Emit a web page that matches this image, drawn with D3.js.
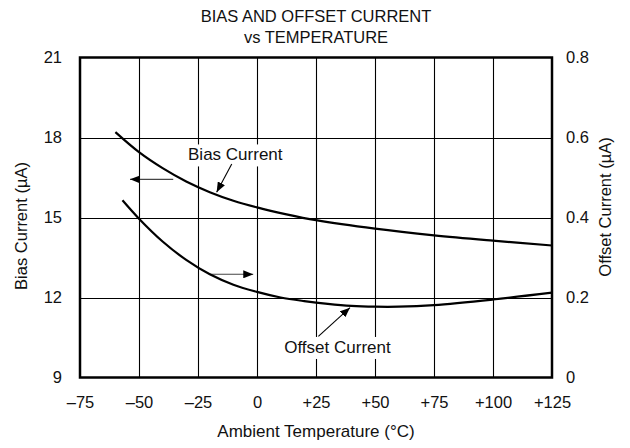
<!DOCTYPE html>
<html><head><meta charset="utf-8">
<script src="https://cdn.jsdelivr.net/npm/d3@7"></script>
<style>
html,body{margin:0;padding:0;background:#fff;}
text{font-family:"Liberation Sans",Arial,Helvetica,sans-serif;fill:#111;}
</style></head>
<body><svg id="c" width="630" height="448"></svg>
<script>
// ---- data ----
const titleLines = ["BIAS AND OFFSET CURRENT", "vs TEMPERATURE"];
const xTicks = [-75, -50, -25, 0, 25, 50, 75, 100, 125];
const xTickLabels = ["–75", "–50", "–25", "0", "+25", "+50", "+75", "+100", "+125"];
const yLeftTicks = [9, 12, 15, 18, 21];
const yRightTicks = [0, 0.2, 0.4, 0.6, 0.8];
const yRightLabels = ["0", "0.2", "0.4", "0.6", "0.8"];
const biasTemp = [-60, -50, -40, -30, -20, -10, 0, 12.5, 25, 50, 75, 100, 125];
const biasValue = [18.2, 17.45, 16.85, 16.35, 15.95, 15.63, 15.38, 15.12, 14.9, 14.58, 14.33, 14.13, 13.95];
const offsetTemp = [-57, -50, -40, -30, -20, -10, 0, 10, 20, 30, 40, 50, 60, 75, 100, 125];
const offsetValue = [0.443, 0.397, 0.340, 0.294, 0.258, 0.232, 0.214, 0.200, 0.191, 0.184, 0.179, 0.177, 0.177, 0.181, 0.195, 0.212];
const xTitle = "Ambient Temperature (°C)";
const yLeftTitle = "Bias Current (µA)";
const yRightTitle = "Offset Current (µA)";
const biasLabel = "Bias Current";
const offsetLabel = "Offset Current";

// ---- layout ----
const svg = d3.select("#c");
const L = 80, R = 552, T = 57.5, B = 377.5;
const x = d3.scaleLinear().domain([-75, 125]).range([L, R]);
const yL = d3.scaleLinear().domain([9, 21]).range([B, T]);
const yR = d3.scaleLinear().domain([0, 0.8]).range([B, T]);
const FS = 16.5;

// title
svg.selectAll("text.title").data(titleLines).join("text")
  .attr("class", "title").attr("x", 316).attr("y", (d, i) => 22 + i * 21)
  .attr("text-anchor", "middle").style("font-size", "16.5px").text(d => d);

// grid
const g = svg.append("g");
g.selectAll("line.v").data(xTicks.slice(1, -1)).join("line")
  .attr("x1", d => Math.round(x(d)) + 0.5).attr("x2", d => Math.round(x(d)) + 0.5)
  .attr("y1", T).attr("y2", B).attr("stroke", "#000").attr("stroke-width", 1.1);
g.selectAll("line.h").data(yLeftTicks.slice(1, -1)).join("line")
  .attr("y1", d => Math.round(yL(d)) + 0.5).attr("y2", d => Math.round(yL(d)) + 0.5)
  .attr("x1", L).attr("x2", R).attr("stroke", "#000").attr("stroke-width", 1.1);

// white label backgrounds (break gridlines)
const ann = svg.append("g");
function bg(cx, baseline, w) {
  ann.append("rect").attr("x", cx - w / 2).attr("y", baseline - 16).attr("width", w).attr("height", 22).attr("fill", "#fff");
}
bg(x(-9.2), yL(17.14), 104);
bg(x(34.1), yL(9.92), 116);

// curves
const line = d3.line().curve(d3.curveCatmullRom.alpha(0.5));
svg.append("path")
  .attr("d", line(biasTemp.map((t, i) => [x(t), yL(biasValue[i])])))
  .attr("fill", "none").attr("stroke", "#000").attr("stroke-width", 2.2);
svg.append("path")
  .attr("d", line(offsetTemp.map((t, i) => [x(t), yR(offsetValue[i])])))
  .attr("fill", "none").attr("stroke", "#000").attr("stroke-width", 2.2);

// arrow markers
const defs = svg.append("defs");
defs.append("marker").attr("id", "ah").attr("viewBox", "0 0 10 8").attr("refX", 10).attr("refY", 4)
  .attr("markerWidth", 10).attr("markerHeight", 8).attr("markerUnits", "userSpaceOnUse").attr("orient", "auto")
  .append("path").attr("d", "M0,0 L10,4 L0,8 Z").attr("fill", "#000");

function arrow(t1, v1, t2, v2, col) {
  ann.append("line").attr("x1", x(t1)).attr("y1", yL(v1)).attr("x2", x(t2)).attr("y2", yL(v2))
    .attr("stroke", col).attr("stroke-width", 1.1).attr("marker-end", "url(#ah)");
}
arrow(-10.7, 17.01, -17.1, 15.95, "#000");      // bias label arrow
arrow(-35.5, 16.43, -53.8, 16.43, "#444");      // bias -> left axis
arrow(-19.9, 12.87, -1.6, 12.87, "#444");       // offset -> right axis
arrow(26, 10.54, 39.4, 11.62, "#000");          // offset label arrow

ann.append("text").attr("x", x(-9.2)).attr("y", yL(17.14)).attr("text-anchor", "middle")
  .style("font-size", "17px").text(biasLabel);
ann.append("text").attr("x", x(34.1)).attr("y", yL(9.92)).attr("text-anchor", "middle")
  .style("font-size", "17px").text(offsetLabel);

// frame
svg.append("rect").attr("x", L).attr("y", T).attr("width", R - L).attr("height", B - T)
  .attr("fill", "none").attr("stroke", "#000").attr("stroke-width", 2.5);

// axes
const ax = d3.axisBottom(x).tickValues(xTicks).tickFormat((d, i) => xTickLabels[i]).tickSize(0).tickPadding(19);
const axG = svg.append("g").attr("transform", `translate(0,${B})`).call(ax);
const ayl = d3.axisLeft(yL).tickValues(yLeftTicks).tickFormat(d3.format("d")).tickSize(0).tickPadding(18);
const aylG = svg.append("g").attr("transform", `translate(${L},0)`).call(ayl);
const ayr = d3.axisRight(yR).tickValues(yRightTicks).tickFormat((d, i) => yRightLabels[i]).tickSize(0).tickPadding(14);
const ayrG = svg.append("g").attr("transform", `translate(${R},0)`).call(ayr);
[axG, aylG, ayrG].forEach(s => {
  s.select(".domain").remove();
  s.selectAll("text").style("font-size", FS + "px").attr("fill", "#111")
    .style("font-family", '"Liberation Sans",Arial,sans-serif');
});

// axis titles
svg.append("text").attr("x", 316).attr("y", 437).attr("text-anchor", "middle").style("font-size", "17px").text(xTitle);
svg.append("text").attr("transform", "translate(27,226) rotate(-90)").attr("text-anchor", "middle").style("font-size", "16.5px").text(yLeftTitle);
svg.append("text").attr("transform", "translate(611,207) rotate(-90)").attr("text-anchor", "middle").style("font-size", "16.5px").text(yRightTitle);
</script></body></html>
